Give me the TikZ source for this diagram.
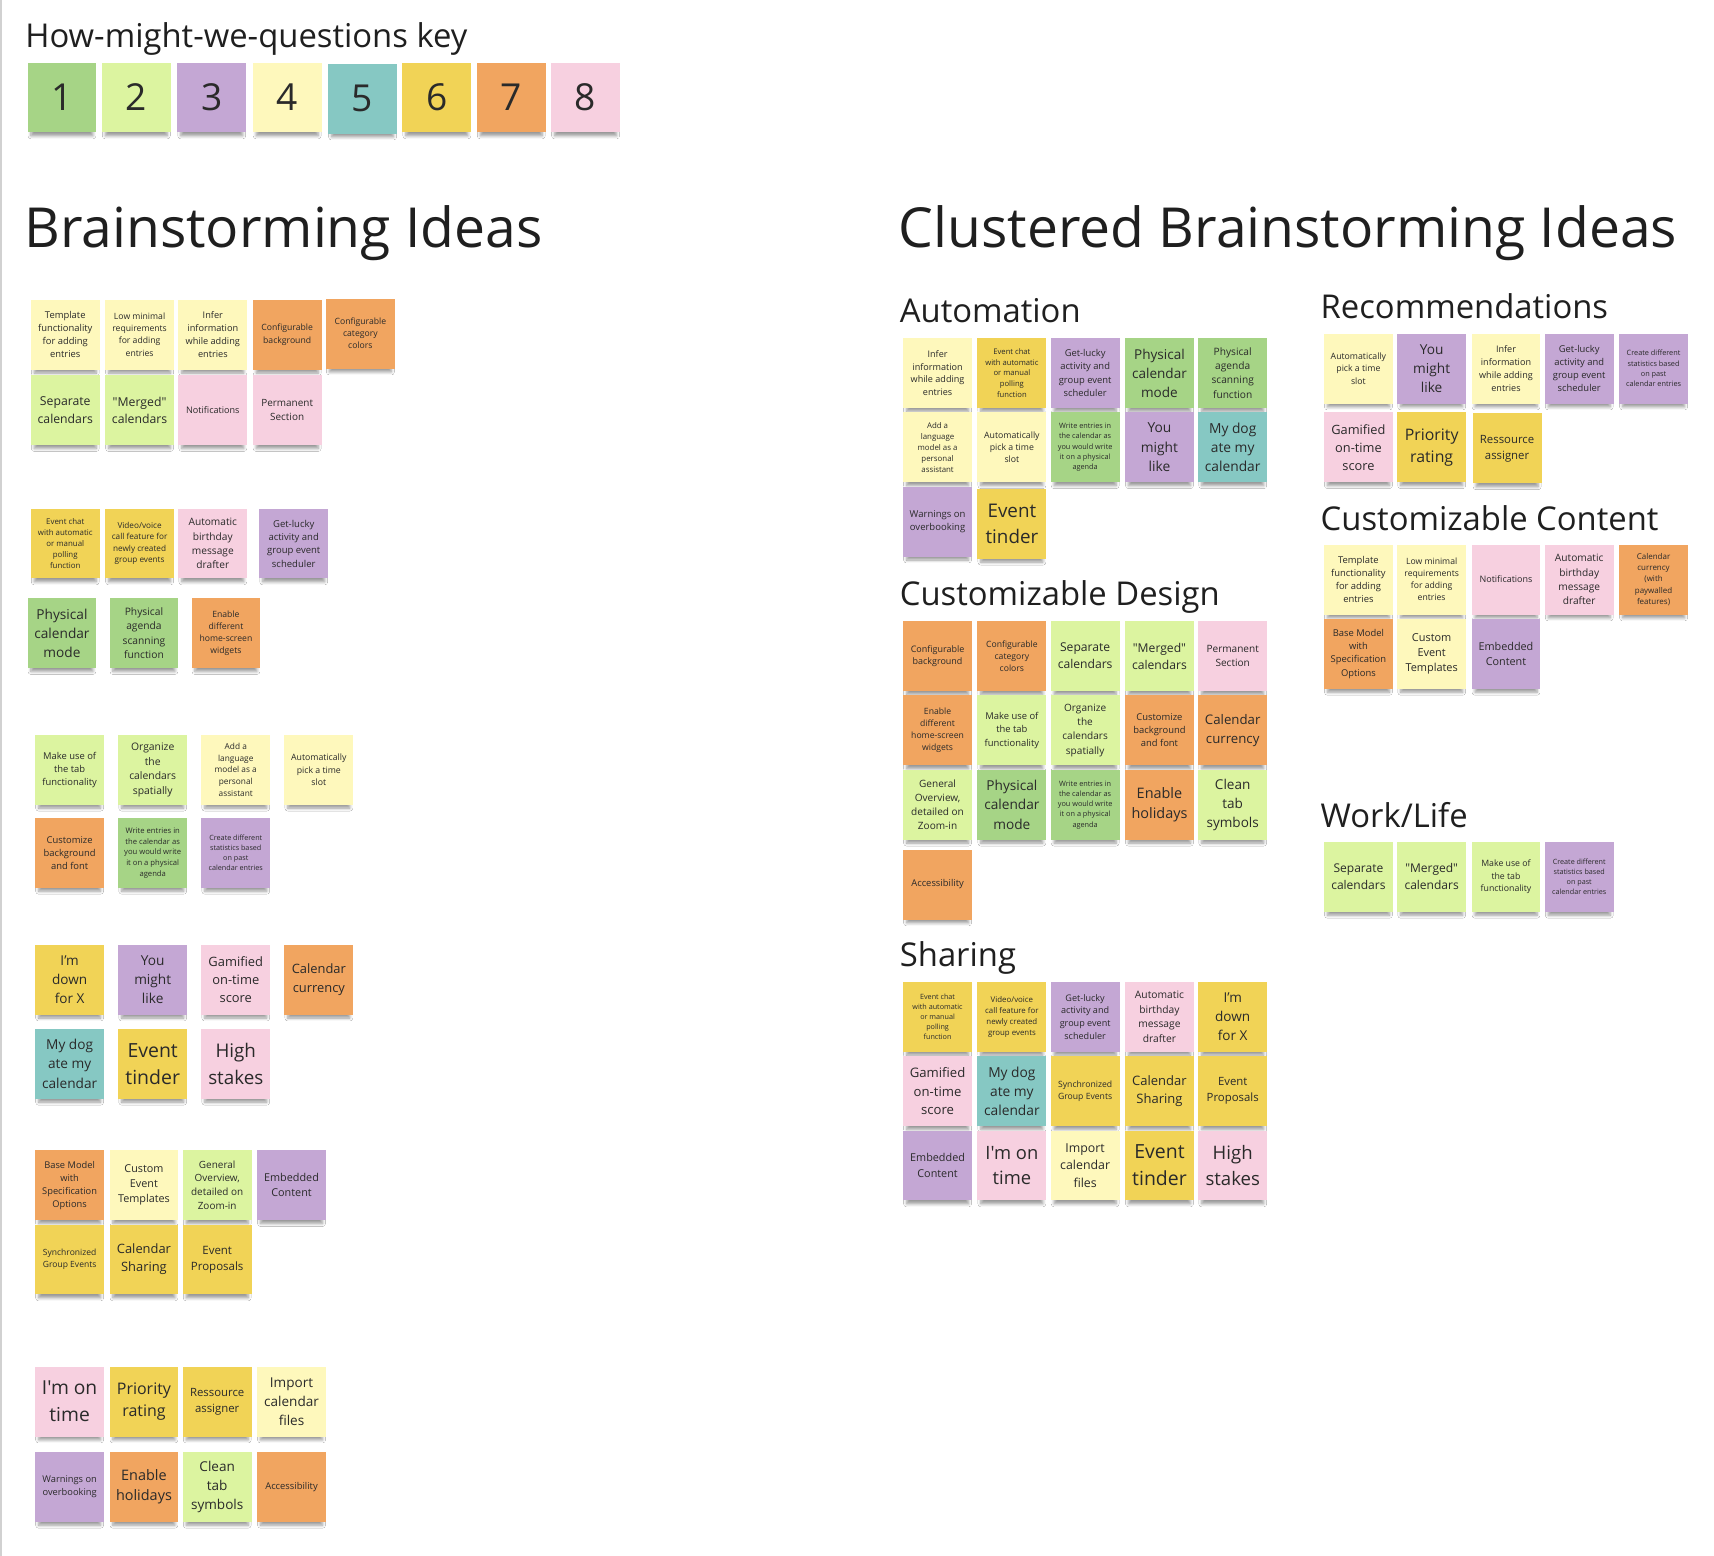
\documentclass[tikz,border=0pt]{standalone}
\usepackage{fontspec}
\usepackage{xfp}
\newfontfamily\osans{Open Sans}
\usetikzlibrary{shadows.blur}
\definecolor{cDG}{HTML}{A6D486}
\definecolor{cLG}{HTML}{DCF4A0}
\definecolor{cV}{HTML}{C4A7D4}
\definecolor{cLY}{HTML}{FEF8BC}
\definecolor{cC}{HTML}{86C8C3}
\definecolor{cY}{HTML}{F1D356}
\definecolor{cO}{HTML}{F1A560}
\definecolor{cP}{HTML}{F7D0E0}
\definecolor{ink}{HTML}{2A2A2A}
\tikzset{
  note/.style={rectangle, draw=none, minimum width=63pt, minimum height=64pt,
    inner sep=0.5pt, align=center, anchor=north west, text=ink,
    blur shadow={shadow xshift=0pt, shadow yshift=-7pt, shadow scale=0.9,
      shadow opacity=40, shadow blur radius=3pt, shadow blur steps=6}},
  heading/.style={anchor=base west, inner sep=0pt, text=black!88},
}
\newcommand\sticky[6]{\node[note, fill=#4, font=\osans\fontsize{#5}{\fpeval{1.4*#5}}\selectfont] (#1) at (#2,#3) {#6};}
\begin{document}
\begin{tikzpicture}[x=1pt,y=-1pt]
\useasboundingbox[fill=white] (0,0) rectangle (1568,1423);
\draw[black!18, line width=1.5pt] (1,0) -- (1,1423);
% ---------- key ----------
\node[heading, font=\osans\fontsize{30}{36}\selectfont] (keytitle) at (23,43) {How-might-we-questions key};
\sticky{k1}{25}{57}{cDG}{34}{1}
\sticky{k2}{93}{57}{cLG}{34}{2}
\sticky{k3}{162}{57}{cV}{34}{3}
\sticky{k4}{231}{57}{cLY}{34}{4}
\sticky{k5}{300}{58}{cC}{34}{5}
\sticky{k6}{368}{57}{cY}{34}{6}
\sticky{k7}{436}{57}{cO}{34}{7}
\sticky{k8}{504}{57}{cP}{34}{8}
% ---------- titles ----------
\node[heading, font=\osans\fontsize{50.5}{58}\selectfont] (bt) at (22,226) {Brainstorming Ideas};
\node[heading, font=\osans\fontsize{50.5}{58}\selectfont] (cbt) at (822,226) {Clustered Brainstorming Ideas};
% ---------- left group 1 ----------
\sticky{g1a}{28}{274}{cLY}{8.6}{Template\\functionality\\for adding\\entries}
\sticky{g1b}{96}{274}{cLY}{7.9}{Low minimal\\requirements\\for adding\\entries}
\sticky{g1c}{163}{274}{cLY}{8.4}{Infer\\information\\while adding\\entries}
\sticky{g1d}{231}{274}{cO}{7.9}{Configurable\\background}
\sticky{g1e}{298}{273}{cO}{7.9}{Configurable\\category\\colors}
\sticky{g1f}{28}{343}{cLG}{11.2}{Separate\\calendars}
\sticky{g1g}{96}{343}{cLG}{11.2}{"Merged"\\calendars}
\sticky{g1h}{163}{343}{cP}{8.3}{Notifications}
\sticky{g1i}{231}{343}{cP}{9.1}{Permanent\\Section}
% ---------- left group 2 ----------
\sticky{g2a}{28}{465}{cY}{7.2}{Event chat\\with automatic\\or manual\\polling\\function}
\sticky{g2b}{96}{465}{cY}{7.5}{Video/voice\\call feature for\\newly created\\group events}
\sticky{g2c}{163}{465}{cP}{9.3}{Automatic\\birthday\\message\\drafter}
\sticky{g2d}{237}{465}{cV}{8.7}{Get-lucky\\activity and\\group event\\scheduler}
\sticky{g2e}{25}{547}{cDG}{12.5}{Physical\\calendar\\mode}
\sticky{g2f}{100}{547}{cDG}{9.4}{Physical\\agenda\\scanning\\function}
\sticky{g2g}{175}{547}{cO}{7.9}{Enable\\different\\home-screen\\widgets}
% ---------- left group 3 ----------
\sticky{g3a}{32}{672}{cLG}{8.6}{Make use of\\the tab\\functionality}
\sticky{g3b}{108}{672}{cLG}{9.5}{Organize\\the\\calendars\\spatially}
\sticky{g3c}{184}{672}{cLY}{7.6}{Add a\\language\\model as a\\personal\\assistant}
\sticky{g3d}{260}{672}{cLY}{8}{Automatically\\pick a time\\slot}
\sticky{g3e}{32}{748}{cO}{8.6}{Customize\\background\\and font}
\sticky{g3f}{108}{748}{cDG}{7}{Write entries in\\the calendar as\\you would write\\it on a physical\\agenda}
\sticky{g3g}{184}{748}{cV}{6.6}{Create different\\statistics based\\on past\\calendar entries}
% ---------- left group 4 ----------
\sticky{g4a}{32}{864}{cY}{12.4}{I’m\\down\\for X}
\sticky{g4b}{108}{864}{cV}{12.5}{You\\might\\like}
\sticky{g4c}{184}{864}{cP}{11.8}{Gamified\\on-time\\score}
\sticky{g4d}{260}{864}{cO}{11.8}{Calendar\\currency}
\sticky{g4e}{32}{941}{cC}{12.5}{My dog\\ate my\\calendar}
\sticky{g4f}{108}{941}{cY}{17.8}{Event\\tinder}
\sticky{g4g}{184}{941}{cP}{17.2}{High\\stakes}
% ---------- left group 5 ----------
\sticky{g5a}{32}{1052}{cO}{8.5}{Base Model\\with\\Specification\\Options}
\sticky{g5b}{100}{1052}{cLY}{9.9}{Custom\\Event\\Templates}
\sticky{g5c}{167}{1052}{cLG}{9.1}{General\\Overview,\\detailed on\\Zoom-in}
\sticky{g5d}{235}{1052}{cV}{9.9}{Embedded\\Content}
\sticky{g5e}{32}{1120}{cY}{7.8}{Synchronized\\Group Events}
\sticky{g5f}{100}{1120}{cY}{11.8}{Calendar\\Sharing}
\sticky{g5g}{167}{1120}{cY}{10.5}{Event\\Proposals}
% ---------- left group 6 ----------
\sticky{g6a}{32}{1250}{cP}{17.6}{I'm on\\time}
\sticky{g6b}{100}{1250}{cY}{14.6}{Priority\\rating}
\sticky{g6c}{167}{1250}{cY}{10.4}{Ressource\\assigner}
\sticky{g6d}{235}{1250}{cLY}{12.4}{Import\\calendar\\files}
\sticky{g6e}{32}{1328}{cV}{8.5}{Warnings on\\overbooking}
\sticky{g6f}{100}{1328}{cO}{13.2}{Enable\\holidays}
\sticky{g6g}{167}{1328}{cLG}{12.4}{Clean\\tab\\symbols}
\sticky{g6h}{235}{1328}{cO}{8.6}{Accessibility}
% ---------- Automation ----------
\node[heading, font=\osans\fontsize{30}{36}\selectfont] (hAuto) at (823,295) {Automation};
\sticky{a1}{826}{309}{cLY}{8.3}{Infer\\information\\while adding\\entries}
\sticky{a2}{894}{309}{cY}{7}{Event chat\\with automatic\\or manual\\polling\\function}
\sticky{a3}{961}{309}{cV}{8.6}{Get-lucky\\activity and\\group event\\scheduler}
\sticky{a4}{1029}{309}{cDG}{12.4}{Physical\\calendar\\mode}
\sticky{a5}{1096}{309}{cDG}{9.3}{Physical\\agenda\\scanning\\function}
\sticky{a6}{826}{377}{cLY}{7.2}{Add a\\language\\model as a\\personal\\assistant}
\sticky{a7}{894}{377}{cLY}{8}{Automatically\\pick a time\\slot}
\sticky{a8}{961}{377}{cDG}{6.7}{Write entries in\\the calendar as\\you would write\\it on a physical\\agenda}
\sticky{a9}{1029}{377}{cV}{12.6}{You\\might\\like}
\sticky{a10}{1096}{377}{cC}{12.6}{My dog\\ate my\\calendar}
\sticky{a11}{826}{445}{cV}{8.7}{Warnings on\\overbooking}
\sticky{a12}{894}{447}{cY}{17.2}{Event\\tinder}
% ---------- Customizable Design ----------
\node[heading, font=\osans\fontsize{30}{36}\selectfont] (hDesign) at (823,554) {Customizable Design};
\sticky{d1}{826}{568}{cO}{8.2}{Configurable\\background}
\sticky{d2}{894}{568}{cO}{7.9}{Configurable\\category\\colors}
\sticky{d3}{961}{568}{cLG}{11.1}{Separate\\calendars}
\sticky{d4}{1029}{568}{cLG}{11.1}{"Merged"\\calendars}
\sticky{d5}{1096}{568}{cP}{9.2}{Permanent\\Section}
\sticky{d6}{826}{636}{cO}{7.9}{Enable\\different\\home-screen\\widgets}
\sticky{d7}{894}{636}{cLG}{8.6}{Make use of\\the tab\\functionality}
\sticky{d8}{961}{636}{cLG}{9.2}{Organize\\the\\calendars\\spatially}
\sticky{d9}{1029}{636}{cO}{8.6}{Customize\\background\\and font}
\sticky{d10}{1096}{636}{cO}{12.1}{Calendar\\currency}
\sticky{d11}{826}{704}{cLG}{9.2}{General\\Overview,\\detailed on\\Zoom-in}
\sticky{d12}{894}{704}{cDG}{12.5}{Physical\\calendar\\mode}
\sticky{d13}{961}{704}{cDG}{6.7}{Write entries in\\the calendar as\\you would write\\it on a physical\\agenda}
\sticky{d14}{1029}{704}{cO}{13.2}{Enable\\holidays}
\sticky{d15}{1096}{704}{cLG}{12.4}{Clean\\tab\\symbols}
\sticky{d16}{826}{777}{cO}{8.6}{Accessibility}
% ---------- Sharing ----------
\node[heading, font=\osans\fontsize{30}{36}\selectfont] (hShare) at (823,884) {Sharing};
\sticky{s1}{826}{898}{cY}{6.6}{Event chat\\with automatic\\or manual\\polling\\function}
\sticky{s2}{894}{898}{cY}{7.2}{Video/voice\\call feature for\\newly created\\group events}
\sticky{s3}{961}{898}{cV}{8.3}{Get-lucky\\activity and\\group event\\scheduler}
\sticky{s4}{1029}{898}{cP}{9.4}{Automatic\\birthday\\message\\drafter}
\sticky{s5}{1096}{898}{cY}{12.4}{I’m\\down\\for X}
\sticky{s6}{826}{966}{cP}{12}{Gamified\\on-time\\score}
\sticky{s7}{894}{966}{cC}{12.6}{My dog\\ate my\\calendar}
\sticky{s8}{961}{966}{cY}{7.9}{Synchronized\\Group Events}
\sticky{s9}{1029}{966}{cY}{11.9}{Calendar\\Sharing}
\sticky{s10}{1096}{966}{cY}{10.4}{Event\\Proposals}
\sticky{s11}{826}{1034}{cV}{9.9}{Embedded\\Content}
\sticky{s12}{894}{1034}{cP}{16.8}{I'm on\\time}
\sticky{s13}{961}{1034}{cLY}{11.3}{Import\\calendar\\files}
\sticky{s14}{1029}{1034}{cY}{17.8}{Event\\tinder}
\sticky{s15}{1096}{1034}{cP}{17}{High\\stakes}
% ---------- Recommendations ----------
\node[heading, font=\osans\fontsize{30}{36}\selectfont] (hRec) at (1208,291) {Recommendations};
\sticky{r1}{1211}{305}{cLY}{8}{Automatically\\pick a time\\slot}
\sticky{r2}{1278}{305}{cV}{12.5}{You\\might\\like}
\sticky{r3}{1346}{305}{cLY}{8.3}{Infer\\information\\while adding\\entries}
\sticky{r4}{1413}{305}{cV}{8.6}{Get-lucky\\activity and\\group event\\scheduler}
\sticky{r5}{1481}{305}{cV}{6.7}{Create different\\statistics based\\on past\\calendar entries}
\sticky{r6}{1211}{377}{cP}{11.7}{Gamified\\on-time\\score}
\sticky{r7}{1278}{377}{cY}{14.5}{Priority\\rating}
\sticky{r8}{1347}{378}{cY}{10.4}{Ressource\\assigner}
% ---------- Customizable Content ----------
\node[heading, font=\osans\fontsize{30}{36}\selectfont] (hCont) at (1208,485) {Customizable Content};
\sticky{c1}{1211}{498}{cLY}{8.6}{Template\\functionality\\for adding\\entries}
\sticky{c2}{1278}{498}{cLY}{7.9}{Low minimal\\requirements\\for adding\\entries}
\sticky{c3}{1346}{498}{cP}{8.2}{Notifications}
\sticky{c4}{1413}{498}{cP}{9.3}{Automatic\\birthday\\message\\drafter}
\sticky{c5}{1481}{498}{cO}{7.3}{Calendar\\currency\\(with\\paywalled\\features)}
\sticky{c6}{1211}{566}{cO}{8.6}{Base Model\\with\\Specification\\Options}
\sticky{c7}{1278}{566}{cLY}{10}{Custom\\Event\\Templates}
\sticky{c8}{1346}{566}{cV}{9.9}{Embedded\\Content}
% ---------- Work/Life ----------
\node[heading, font=\osans\fontsize{30}{36}\selectfont] (hWork) at (1208,757) {Work/Life};
\sticky{w1}{1211}{770}{cLG}{11}{Separate\\calendars}
\sticky{w2}{1278}{770}{cLG}{11}{"Merged"\\calendars}
\sticky{w3}{1346}{770}{cLG}{8}{Make use of\\the tab\\functionality}
\sticky{w4}{1413}{770}{cV}{6.6}{Create different\\statistics based\\on past\\calendar entries}
\end{tikzpicture}
\end{document}
